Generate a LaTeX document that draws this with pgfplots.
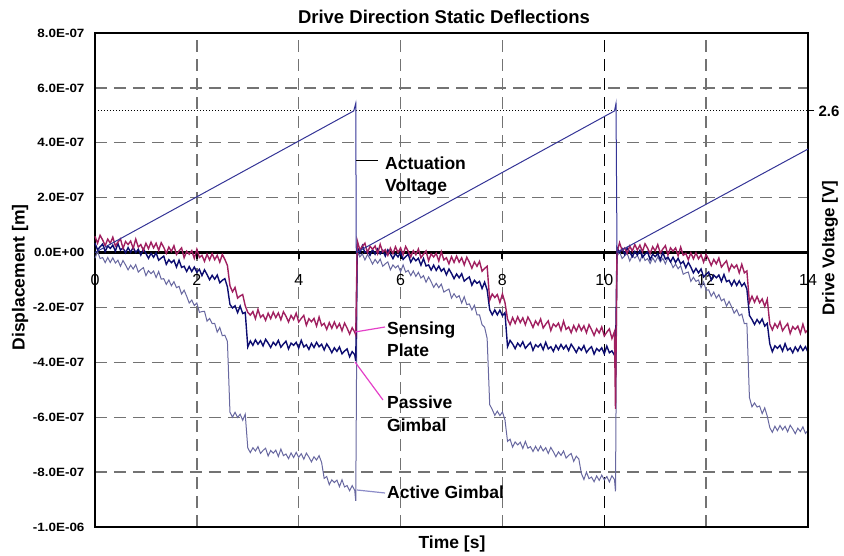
\documentclass[border=0pt]{standalone}
\usepackage{fontspec}
\setmainfont{Liberation Sans}
\newfontfamily\tickfont{Liberation Sans}[FakeStretch=1.12]
\usepackage{pgfplots}
\usepackage{pgfplotstable}
\pgfplotsset{compat=1.18}

\definecolor{sensc}{RGB}{160,32,96}
\definecolor{passc}{RGB}{12,12,112}
\definecolor{actc}{RGB}{104,104,160}
\definecolor{voltc}{RGB}{52,52,150}
\definecolor{leadm}{RGB}{228,64,200}
\definecolor{leadb}{RGB}{140,140,200}

% displacement in units of 1e-7 m: t [s], Sensing Plate, Passive Gimbal, Active Gimbal
\pgfplotstableread{
t S P A
0.00 0.59 0.34 -0.21
0.05 0.34 0.10 0.04
0.10 0.63 0.21 -0.22
0.15 0.46 0.31 -0.18
0.20 0.25 0.03 -0.37
0.25 0.49 0.24 -0.18
0.30 0.34 0.15 -0.36
0.35 0.56 0.27 -0.19
0.40 0.24 0.05 -0.38
0.45 0.38 0.33 -0.28
0.50 0.50 0.09 -0.50
0.55 0.15 0.17 -0.29
0.60 0.40 -0.01 -0.45
0.65 0.29 0.18 -0.63
0.70 0.42 0.01 -0.46
0.75 0.15 0.19 -0.60
0.80 0.49 0.00 -0.44
0.85 0.20 0.12 -0.71
0.90 0.29 -0.09 -0.62
0.95 0.08 0.13 -0.55
1.00 0.34 -0.03 -0.84
1.05 0.14 -0.21 -0.66
1.10 0.38 -0.03 -0.77
1.15 0.17 -0.17 -0.67
1.20 0.34 -0.01 -0.91
1.25 0.08 -0.28 -0.69
1.30 0.36 -0.20 -0.97
1.35 0.19 -0.13 -0.95
1.40 -0.03 -0.43 -1.16
1.45 0.20 -0.26 -1.00
1.50 0.04 -0.37 -1.21
1.55 0.25 -0.28 -1.06
1.60 -0.07 -0.53 -1.28
1.65 0.06 -0.28 -1.23
1.70 0.17 -0.54 -1.51
1.75 -0.19 -0.50 -1.37
1.80 0.05 -0.69 -1.59
1.85 -0.06 -0.51 -1.84
1.90 0.07 -0.69 -1.73
1.95 -0.21 -0.53 -1.93
2.00 0.12 -0.72 -1.84
2.05 -0.18 -0.61 -2.18
2.10 -0.10 -0.84 -2.15
2.15 -0.32 -0.63 -2.14
2.20 -0.06 -0.80 -2.50
2.25 -0.27 -0.99 -2.40
2.30 -0.04 -0.83 -2.59
2.35 -0.26 -0.97 -2.58
2.40 -0.10 -0.82 -2.90
2.45 -0.35 -1.10 -2.73
2.50 -0.07 -1.01 -3.03
2.55 -0.25 -0.95 -3.01
2.60 -0.47 -1.25 -3.24
2.65 -1.21 -1.89 -5.82
2.70 -1.43 -2.02 -6.00
2.75 -1.27 -1.94 -5.82
2.80 -1.66 -2.19 -6.01
2.85 -1.58 -1.95 -5.89
2.90 -1.53 -2.22 -6.11
2.95 -1.94 -2.18 -5.89
3.00 -2.18 -3.44 -7.12
3.05 -2.28 -3.22 -7.29
3.10 -2.15 -3.38 -7.11
3.15 -2.41 -3.18 -7.23
3.20 -2.07 -3.34 -7.07
3.25 -2.36 -3.21 -7.32
3.30 -2.27 -3.40 -7.21
3.35 -2.47 -3.16 -7.13
3.40 -2.21 -3.30 -7.41
3.45 -2.41 -3.46 -7.21
3.50 -2.17 -3.27 -7.31
3.55 -2.37 -3.38 -7.20
3.60 -2.20 -3.20 -7.43
3.65 -2.45 -3.45 -7.16
3.70 -2.16 -3.33 -7.40
3.75 -2.32 -3.23 -7.34
3.80 -2.53 -3.51 -7.51
3.85 -2.29 -3.30 -7.30
3.90 -2.44 -3.38 -7.47
3.95 -2.21 -3.27 -7.28
4.00 -2.53 -3.48 -7.46
4.05 -2.40 -3.20 -7.33
4.10 -2.29 -3.44 -7.53
4.15 -2.65 -3.36 -7.31
4.20 -2.41 -3.53 -7.45
4.25 -2.52 -3.31 -7.63
4.30 -2.40 -3.46 -7.44
4.35 -2.68 -3.27 -7.56
4.40 -2.35 -3.43 -7.40
4.45 -2.66 -3.34 -7.65
4.50 -2.58 -3.55 -8.23
4.55 -2.80 -3.33 -8.16
4.60 -2.55 -3.47 -8.46
4.65 -2.76 -3.65 -8.28
4.70 -2.53 -3.47 -8.38
4.75 -2.75 -3.60 -8.29
4.80 -2.59 -3.44 -8.53
4.85 -2.85 -3.69 -8.28
4.90 -2.57 -3.59 -8.54
4.95 -2.75 -3.51 -8.49
5.00 -2.97 -3.80 -8.68
5.05 -2.74 -3.61 -8.49
5.10 -2.90 -3.72 -8.67
5.12 -3.00 -3.95 -9.05
5.15 0.43 0.20 0.03
5.20 0.10 -0.02 -0.16
5.25 0.23 0.25 -0.05
5.30 0.34 0.00 -0.27
5.35 -0.01 0.07 -0.07
5.40 0.23 -0.10 -0.23
5.45 0.12 0.11 -0.42
5.50 0.24 -0.06 -0.25
5.55 -0.04 0.13 -0.39
5.60 0.30 -0.05 -0.24
5.65 0.02 0.08 -0.50
5.70 0.11 -0.13 -0.41
5.75 -0.10 0.10 -0.34
5.80 0.16 -0.05 -0.63
5.85 -0.04 -0.22 -0.45
5.90 0.21 -0.04 -0.56
5.95 0.00 -0.16 -0.47
6.00 0.17 0.00 -0.70
6.05 -0.08 -0.25 -0.45
6.10 0.22 -0.15 -0.71
6.15 0.05 -0.06 -0.65
6.20 -0.16 -0.35 -0.84
6.25 0.07 -0.18 -0.67
6.30 -0.08 -0.30 -0.87
6.35 0.13 -0.21 -0.72
6.40 -0.19 -0.46 -0.93
6.45 -0.06 -0.22 -0.84
6.50 0.06 -0.49 -1.08
6.55 -0.30 -0.45 -0.89
6.60 -0.05 -0.64 -1.06
6.65 -0.16 -0.46 -1.27
6.70 -0.03 -0.65 -1.12
6.75 -0.31 -0.49 -1.28
6.80 0.03 -0.68 -1.15
6.85 -0.27 -0.58 -1.44
6.90 -0.19 -0.81 -1.38
6.95 -0.41 -0.60 -1.33
7.00 -0.15 -0.76 -1.66
7.05 -0.36 -0.95 -1.50
7.10 -0.13 -0.78 -1.64
7.15 -0.35 -0.92 -1.57
7.20 -0.19 -0.77 -1.84
7.25 -0.45 -1.04 -1.61
7.30 -0.17 -0.96 -1.90
7.35 -0.35 -0.89 -1.87
7.40 -0.57 -1.19 -2.09
7.45 -0.34 -1.01 -1.92
7.50 -0.50 -1.12 -2.27
7.55 -0.32 -1.05 -2.27
7.60 -0.68 -1.31 -2.63
7.65 -0.58 -1.08 -2.72
7.70 -0.50 -1.36 -3.13
7.75 -1.74 -2.08 -5.54
7.80 -1.51 -2.27 -5.72
7.85 -1.64 -2.09 -5.93
7.90 -1.53 -2.27 -5.78
7.95 -1.82 -2.10 -5.94
8.00 -1.51 -2.30 -5.81
8.05 -1.82 -2.19 -6.10
8.10 -2.42 -3.43 -6.88
8.15 -2.63 -3.20 -6.80
8.20 -2.37 -3.33 -7.09
8.25 -2.58 -3.50 -6.90
8.30 -2.34 -3.30 -7.01
8.35 -2.55 -3.42 -6.91
8.40 -2.38 -3.25 -7.14
8.45 -2.63 -3.49 -6.88
8.50 -2.35 -3.38 -7.13
8.55 -2.52 -3.28 -7.07
8.60 -2.73 -3.56 -7.25
8.65 -2.49 -3.36 -7.06
8.70 -2.64 -3.44 -7.23
8.75 -2.42 -3.33 -7.05
8.80 -2.75 -3.54 -7.23
8.85 -2.61 -3.27 -7.11
8.90 -2.49 -3.51 -7.32
8.95 -2.84 -3.43 -7.10
9.00 -2.60 -3.60 -7.26
9.05 -2.70 -3.38 -7.44
9.10 -2.57 -3.54 -7.26
9.15 -2.84 -3.35 -7.39
9.20 -2.50 -3.51 -7.23
9.25 -2.80 -3.38 -7.49
9.30 -2.71 -3.57 -7.39
9.35 -2.92 -3.34 -7.32
9.40 -2.66 -3.48 -7.61
9.45 -2.86 -3.64 -7.42
9.50 -2.63 -3.45 -7.52
9.55 -2.84 -3.56 -8.05
9.60 -2.67 -3.39 -8.27
9.65 -2.92 -3.64 -8.00
9.70 -2.63 -3.52 -8.24
9.75 -2.81 -3.43 -8.18
9.80 -3.02 -3.70 -8.35
9.85 -2.78 -3.50 -8.14
9.90 -2.93 -3.59 -8.30
9.95 -2.71 -3.47 -8.11
10.00 -3.04 -3.69 -8.28
10.05 -2.90 -3.41 -8.16
10.10 -2.78 -3.65 -8.36
10.15 -3.13 -3.58 -8.13
10.20 -2.88 -3.74 -8.27
10.22 -5.70 -3.85 -8.70
10.25 0.01 0.18 -0.14
10.30 0.36 0.01 0.03
10.35 0.08 0.14 -0.22
10.40 0.17 -0.07 -0.12
10.45 -0.03 0.16 -0.03
10.50 0.24 0.02 -0.31
10.55 0.05 -0.15 -0.11
10.60 0.29 0.04 -0.20
10.65 0.09 -0.09 -0.10
10.70 0.27 0.08 -0.32
10.75 0.03 -0.17 -0.05
10.80 0.32 -0.06 -0.29
10.85 0.16 0.03 -0.22
10.90 -0.04 -0.26 -0.40
10.95 0.21 -0.06 -0.19
11.00 0.06 -0.15 -0.35
11.05 0.29 -0.04 -0.16
11.10 -0.02 -0.26 -0.34
11.15 0.13 0.00 -0.21
11.20 0.25 -0.24 -0.41
11.25 -0.09 -0.17 -0.18
11.30 0.17 -0.34 -0.32
11.35 0.05 -0.17 -0.55
11.40 0.17 -0.36 -0.42
11.45 -0.12 -0.21 -0.59
11.50 0.20 -0.41 -0.48
11.55 -0.10 -0.32 -0.79
11.60 -0.03 -0.55 -0.74
11.65 -0.26 -0.36 -0.71
11.70 -0.01 -0.53 -1.05
11.75 -0.23 -0.74 -0.90
11.80 -0.01 -0.58 -1.05
11.85 -0.23 -0.74 -1.00
11.90 -0.08 -0.60 -1.28
11.95 -0.35 -0.89 -1.07
12.00 -0.07 -0.79 -1.37
12.05 -0.25 -0.71 -1.36
12.10 -0.47 -1.00 -1.59
12.15 -0.25 -0.82 -1.44
12.20 -0.41 -0.92 -1.66
12.25 -0.20 -0.82 -1.53
12.30 -0.53 -1.05 -1.76
12.35 -0.41 -0.80 -1.69
12.40 -0.30 -1.06 -1.95
12.45 -0.67 -1.01 -1.78
12.50 -0.44 -1.20 -1.98
12.55 -0.56 -1.01 -2.21
12.60 -0.45 -1.20 -2.08
12.65 -0.74 -1.03 -2.30
12.70 -0.43 -1.22 -2.24
12.75 -0.74 -1.11 -2.59
12.80 -0.67 -1.33 -2.58
12.85 -1.82 -2.29 -5.28
12.90 -1.59 -2.44 -5.62
12.95 -1.81 -2.62 -5.48
13.00 -1.60 -2.44 -5.63
13.05 -1.83 -2.58 -5.59
13.10 -1.69 -2.42 -5.87
13.15 -1.96 -2.68 -5.66
13.20 -1.70 -2.58 -5.96
13.25 -2.61 -3.33 -6.38
13.30 -2.82 -3.61 -6.55
13.35 -2.59 -3.40 -6.33
13.40 -2.74 -3.49 -6.49
13.45 -2.52 -3.38 -6.30
13.50 -2.85 -3.59 -6.46
13.55 -2.71 -3.32 -6.33
13.60 -2.59 -3.56 -6.53
13.65 -2.95 -3.48 -6.29
13.70 -2.70 -3.65 -6.43
13.75 -2.80 -3.44 -6.60
13.80 -2.68 -3.59 -6.40
13.85 -2.95 -3.40 -6.52
13.90 -2.61 -3.57 -6.35
13.95 -2.91 -3.43 -6.59
14.00 -2.82 -3.63 -6.48
}\defltable

% actuation (drive) voltage [V]
\pgfplotstableread{
t V
0.00 0.00
5.08 2.60
5.12 2.74
5.13 0.00
10.20 2.60
10.23 2.74
10.25 0.00
14.00 1.90
}\volttable

\begin{document}
\begin{tikzpicture}
\useasboundingbox (-95pt,-28pt) rectangle (749pt,527pt);
\begin{axis}[
  at={(0pt,0pt)}, anchor=south west,
  width=713pt, height=494pt, scale only axis,
  xmin=0, xmax=14, ymin=-10, ymax=8,
  xtick={0,2,4,6,8,10,12,14}, xticklabels={},
  ytick={-10,-8,-6,-4,-2,0,2,4,6,8},
  yticklabels={-1.0E-06,-8.0E-07,-6.0E-07,-4.0E-07,-2.0E-07,0.0E+00,2.0E-07,4.0E-07,6.0E-07,8.0E-07},
  yticklabel style={font=\tickfont\bfseries\fontsize{12}{12}\selectfont, xshift=-7pt},
  major tick length=0pt,
  grid=major,
  major grid style={dash pattern=on 12pt off 7pt, line width=1.3pt, color=black!55},
  axis line style={line width=2.6pt},
  clip=false,
]
\draw[dash pattern=on 12pt off 7pt, line width=1.3pt, black] (axis cs:10,-10) -- (axis cs:10,8);
\draw[line width=2.6pt] (axis cs:0,0) -- (axis cs:14,0);
\pgfplotsinvokeforeach{0,2,4,6,8,10,12,14}{
  \draw[line width=2pt] (axis cs:#1,0) -- ++(0pt,-6pt);
  \node[anchor=north, inner sep=0pt, yshift=-22pt, font=\fontsize{16}{16}\selectfont] at (axis cs:#1,0) {#1};
}
\addplot[actc, line width=1pt] table[x=t, y=A] {\defltable};
\addplot[passc, line width=1.4pt] table[x=t, y=P] {\defltable};
\addplot[sensc, line width=1.4pt] table[x=t, y=S] {\defltable};
\end{axis}

\begin{axis}[
  at={(0pt,0pt)}, anchor=south west,
  width=713pt, height=494pt, scale only axis,
  xmin=0, xmax=14, ymin=-5.0388, ymax=4.0310,
  axis x line=none, axis y line*=right,
  y axis line style={line width=2.6pt},
  ytick={2.6}, yticklabels={2.6},
  yticklabel style={font=\bfseries\fontsize{15}{15}\selectfont, xshift=1pt},
  major tick length=6pt, tick align=outside,
  tick style={black, line width=1pt},
  clip=false,
]
\draw[black, line width=1pt, dash pattern=on 1pt off 2pt] (axis cs:0,2.6) -- (axis cs:14,2.6);
\addplot[voltc, line width=1pt] table[x=t, y=V] {\volttable};
\end{axis}

% titles and labels
\node[font=\bfseries\fontsize{18.5}{20}\selectfont] at (349pt,510.5pt) {Drive Direction Static Deflections};
\node[font=\bfseries\fontsize{17.5}{20}\selectfont] at (357pt,-16.5pt) {Time [s]};
\node[font=\bfseries\fontsize{17.5}{20}\selectfont, rotate=90] at (-75pt,249.5pt) {Displacement [m]};
\node[font=\bfseries\fontsize{17}{20}\selectfont, rotate=90] at (735pt,279pt) {Drive Voltage [V]};

% annotations
\draw[black, line width=1pt] (261pt,366pt) -- (283pt,366pt);
\draw[leadm, line width=1.2pt] (260pt,195pt) -- (290pt,200pt);
\draw[leadm, line width=1.2pt] (260pt,165pt) -- (288pt,127pt);
\draw[leadb, line width=1.2pt] (262pt,37pt) -- (290pt,34pt);
\begin{scope}[every node/.style={anchor=base west, inner sep=0pt, font=\bfseries\fontsize{17.5}{20}\selectfont}]
\node at (290pt,357.7pt) {Actuation};
\node at (290pt,335.7pt) {Voltage};
\node at (292pt,192.7pt) {Sensing};
\node at (292pt,170.7pt) {Plate};
\node at (292pt,118.7pt) {Passive};
\node at (292pt,95.7pt) {Gimbal};
\node at (292pt,28.7pt) {Active Gimbal};
\end{scope}
\end{tikzpicture}
\end{document}
